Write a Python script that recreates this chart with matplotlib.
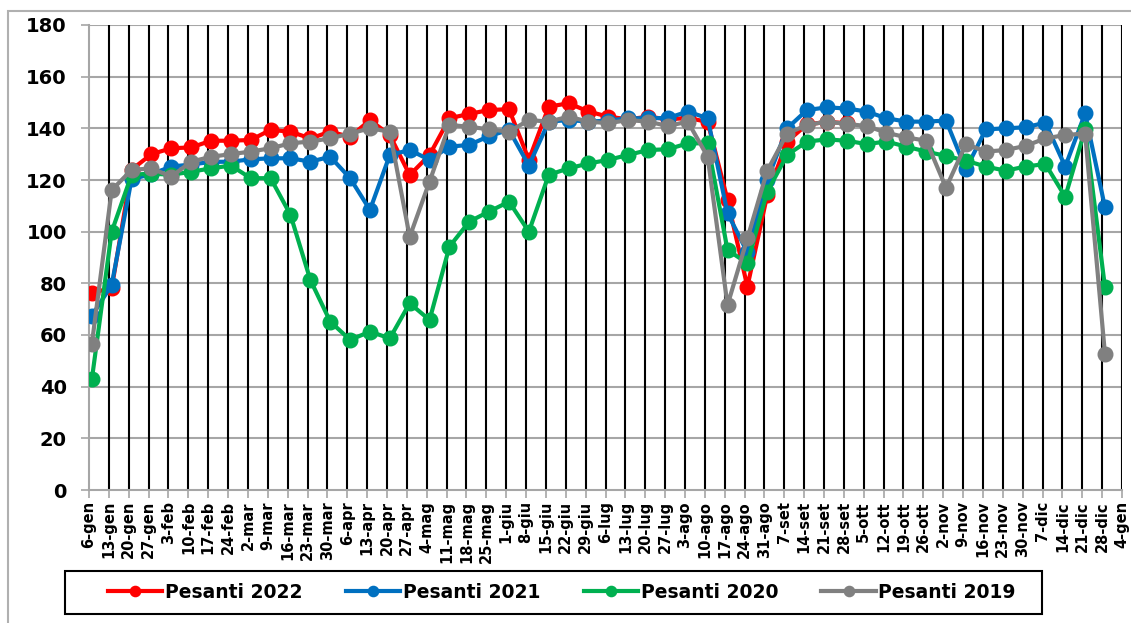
import matplotlib.pyplot as plt
from matplotlib.patches import Rectangle

# week labels (x axis), one per Thursday
weeks = ["6-gen", "13-gen", "20-gen", "27-gen", "3-feb", "10-feb", "17-feb", "24-feb",
         "2-mar", "9-mar", "16-mar", "23-mar", "30-mar", "6-apr", "13-apr", "20-apr",
         "27-apr", "4-mag", "11-mag", "18-mag", "25-mag", "1-giu", "8-giu", "15-giu",
         "22-giu", "29-giu", "6-lug", "13-lug", "20-lug", "27-lug", "3-ago", "10-ago",
         "17-ago", "24-ago", "31-ago", "7-set", "14-set", "21-set", "28-set", "5-ott",
         "12-ott", "19-ott", "26-ott", "2-nov", "9-nov", "16-nov", "23-nov", "30-nov",
         "7-dic", "14-dic", "21-dic", "28-dic", "4-gen"]

pesanti_2022 = [76.4, 78.1, 124, 130, 132.3, 132.6, 135.2, 135.2, 135.5, 139.4,
                138.7, 136.1, 138.7, 136.7, 143.2, 137.4, 121.9, 129.7, 143.9, 145.6,
                147.1, 147.4, 127.8, 148.4, 149.7, 146.5, 144.5, 143.5, 144.5, 143.5,
                144, 142.5, 112.3, 78.7, 114.2, 134.9, 141.5, 142.5, 142]

pesanti_2021 = [67.4, 79.4, 120.3, 122.3, 125.2, 126, 127, 127.1, 128, 128.4,
                128.4, 127.1, 129, 120.7, 108.4, 129.7, 131.6, 127.8, 132.9, 133.6,
                137, 139.4, 125.6, 142.6, 143.2, 142.6, 143, 143.9, 143.9, 144,
                146.5, 143.9, 107.1, 92, 120, 140, 147.1, 148.1, 147.7, 146.5,
                143.9, 142.6, 142.6, 143, 124.1, 139.6, 140, 140.4, 142.2, 125.2,
                145.8, 109.4]

pesanti_2020 = [42.8, 100, 122, 122.5, 122, 123.2, 124.5, 125.6, 120.7, 120.7,
                106.5, 81.3, 65.2, 58.1, 61.3, 58.7, 72.3, 65.8, 94.2, 103.9,
                107.8, 111.6, 100, 122, 124.5, 126.4, 127.8, 129.7, 131.6, 131.9,
                134.2, 134.2, 92.9, 87.8, 115.5, 129.7, 134.9, 135.7, 135.2, 133.9,
                134.9, 132.9, 131, 129.3, 127.5, 125.2, 123.6, 125.2, 126.2, 113.5,
                139.6, 78.5]

pesanti_2019 = [56.5, 116.1, 123.9, 124.5, 121.3, 127.1, 129, 130, 131, 132.3,
                134.2, 134.9, 136.1, 138, 140, 138.7, 98, 119.4, 141.3, 140.6,
                139.6, 138.7, 143.2, 142.6, 144.5, 142.6, 142, 143.2, 142.6, 140.9,
                142.6, 129, 71.6, 97.4, 123.6, 138, 141.3, 142.6, 141.7, 140.9,
                138.3, 136.5, 135.2, 117, 133.9, 131, 131.6, 133.2, 136.1, 137.4,
                138, 52.6]

series = [
    ("Pesanti 2022", pesanti_2022, "#ff0000"),
    ("Pesanti 2021", pesanti_2021, "#0070c0"),
    ("Pesanti 2020", pesanti_2020, "#00b050"),
    ("Pesanti 2019", pesanti_2019, "#808080"),
]

fig = plt.figure(figsize=(11.31, 6.23), dpi=100)
ax = fig.add_axes([89 / 1131, 1 - 490 / 623, (1122 - 89) / 1131, (490 - 25) / 623])

# ticks sit on the week start, points one day later
tick_days = [7 * i for i in range(len(weeks))]
for name, vals, col in series:
    days = [7 * i + 1 for i in range(len(vals))]
    ax.plot(days, vals, color=col, lw=3, marker="o", ms=10.5, label=name, zorder=3)

ax.set_xlim(0, tick_days[-1])
ax.set_ylim(0, 180)
ax.set_yticks(range(0, 181, 20))
ax.set_xticks(tick_days)
ax.set_xticklabels(weeks, rotation=90, fontsize=10.5, fontweight="bold")
for lab in ax.get_yticklabels():
    lab.set_fontsize(14)
    lab.set_fontweight("bold")

# gridlines: gray horizontal, black vertical
for y in range(20, 181, 20):
    ax.axhline(y, color="#a6a6a6", lw=1.5, zorder=1)
for d in tick_days[1:]:
    ax.axvline(d, color="black", lw=1.5, zorder=1)

for s in ["top", "right"]:
    ax.spines[s].set_visible(False)
ax.spines["left"].set_color("#a6a6a6")
ax.spines["bottom"].set_color("#a6a6a6")
ax.spines["left"].set_linewidth(1.5)
ax.spines["bottom"].set_linewidth(1.5)
ax.tick_params(axis="both", colors="#a6a6a6", length=6, width=1.2, labelcolor="black")
ax.tick_params(axis="x", pad=2)
ax.tick_params(axis="y", pad=10)

# legend box drawn separately, entries centred inside it
fig.patches.append(Rectangle((65 / 1131, 9 / 623), (1042 - 65) / 1131, 43 / 623,
                             transform=fig.transFigure, fill=False, edgecolor="black", lw=1.5))
leg = fig.legend(loc="center", bbox_to_anchor=(562 / 1131, 30.5 / 623), ncol=4, frameon=False,
                 handlelength=2.9, handletextpad=0.15, columnspacing=2.3, markerscale=0.7,
                 prop={"weight": "bold", "size": 13.5})

# outer chart border
fig.patches.append(Rectangle((8 / 1131, -0.05), 1.1, 1 - 11 / 623 + 0.05, transform=fig.transFigure,
                             fill=False, edgecolor="#b0b0b0", lw=1.5))

fig.savefig("out.png", dpi=100)
